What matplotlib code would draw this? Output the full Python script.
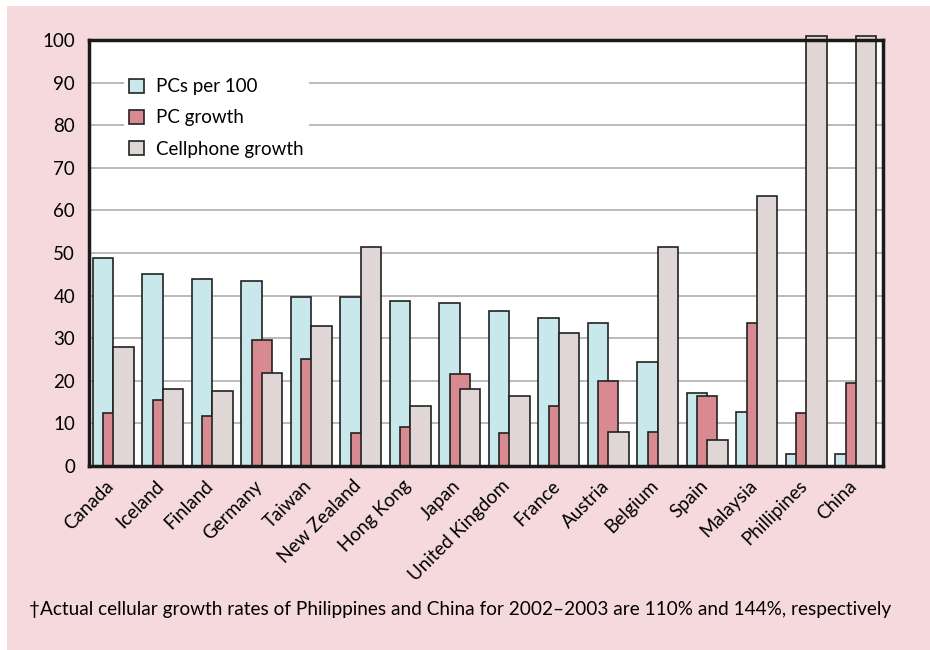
import matplotlib.pyplot as plt
import numpy as np
from matplotlib.patches import Rectangle

countries = ["Canada", "Iceland", "Finland", "Germany", "Taiwan", "New Zealand",
             "Hong Kong", "Japan", "United Kingdom", "France", "Austria", "Belgium",
             "Spain", "Malaysia", "Phillipines", "China"]
pcs_per_100 = [48.8, 45.1, 44.0, 43.5, 39.6, 39.6, 38.7, 38.3, 36.3, 34.7, 33.6, 24.3,
               17.1, 12.7, 2.8, 2.8]
pc_growth = [12.4, 15.6, 11.8, 29.6, 25.2, 7.7, 9.2, 21.6, 7.7, 14.1, 20.0, 7.9,
             16.4, 33.6, 12.4, 19.6]
cell_growth = [28.0, 18.0, 17.6, 21.9, 32.8, 51.5, 14.1, 18.0, 16.4, 31.2, 7.9, 51.5,
               6.0, 63.4, 101, 101]
yticks = list(range(0, 101, 10))
footnote = ("\u2020Actual cellular growth rates of Philippines and China for 2002\u20132003 "
            "are 110% and 144%, respectively")

PINK = "#f5d9dc"
CYAN = "#c8e8ec"
RED = "#d88a90"
GREY = "#e0d6d6"

plt.rcParams["font.family"] = ["Lato", "DejaVu Sans"]

fig = plt.figure(figsize=(9.3, 6.5), dpi=100, facecolor="white")
fig.patches.append(Rectangle((7 / 930, 0), 1, 1 - 6 / 650, transform=fig.transFigure,
                             facecolor=PINK, edgecolor="none", zorder=-10))
ax = fig.add_axes([89 / 930, 1 - 466 / 650, 794 / 930, 426 / 650])

x = np.arange(len(countries))
w = 0.41
ax.bar(x, pcs_per_100, w, align="edge", color=CYAN, edgecolor="#222222", linewidth=1.2,
       label="PCs per 100", zorder=3)
ax.bar(x + 0.205, pc_growth, w, align="edge", color=RED, edgecolor="#222222", linewidth=1.2,
       label="PC growth", zorder=4)
bars = ax.bar(x + 0.41, cell_growth, w, align="edge", color=GREY, edgecolor="#222222",
              linewidth=1.2, label="Cellphone growth", zorder=5)
for b in bars:
    b.set_clip_on(False)

ax.set_xlim(-0.08, 15.96)
ax.set_ylim(0, 100)
ax.set_yticks(yticks)
ax.set_yticklabels([str(t) for t in yticks], fontsize=13.5)
ax.tick_params(axis="y", length=0, pad=10)
ax.set_xticks(x + 0.25)
ax.set_xticklabels(countries, rotation=45, ha="right", rotation_mode="anchor", fontsize=13.5)
ax.tick_params(axis="x", length=0, pad=8)
ax.yaxis.grid(True, color="#b4b4b4", linewidth=1.3, zorder=0)
ax.set_axisbelow(True)
for s in ax.spines.values():
    s.set_linewidth(2.5)
    s.set_color("#1a1a1a")
    s.set_zorder(6)

leg = ax.legend(loc="upper left", bbox_to_anchor=(0.032, 0.945), fontsize=13.5,
                handlelength=0.8, handleheight=0.8, handletextpad=0.6, labelspacing=0.75,
                frameon=True, fancybox=False, borderpad=0.3)
leg.get_frame().set_facecolor("white")
leg.get_frame().set_edgecolor("none")
leg.get_frame().set_alpha(1)
leg.set_zorder(7)

fig.text(460 / 930, 1 - 610 / 650, footnote, ha="center", va="center", fontsize=13.7)

fig.savefig("out.png", dpi=100, facecolor=fig.get_facecolor())
